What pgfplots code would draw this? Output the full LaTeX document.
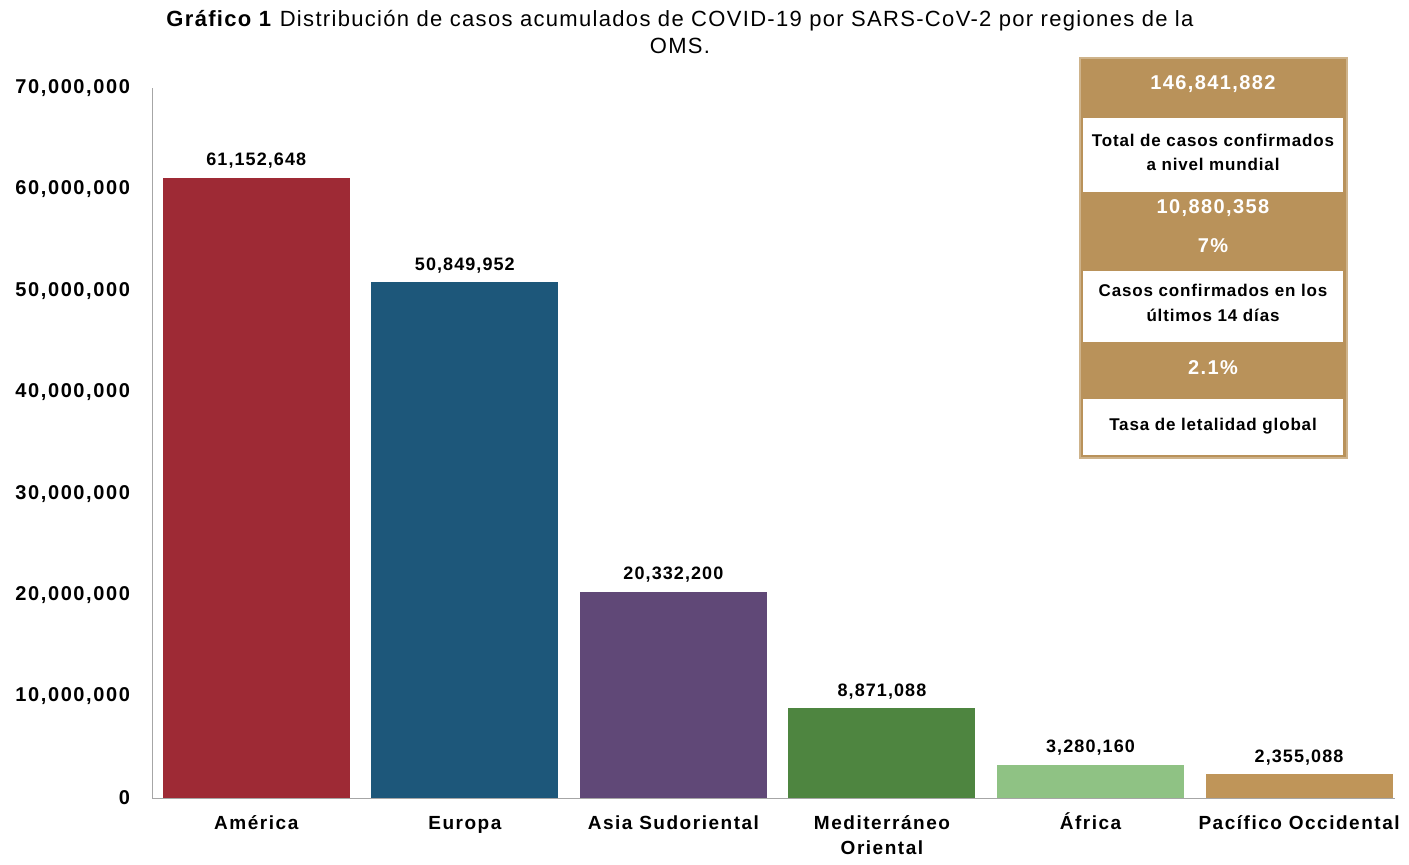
\documentclass[border=0pt]{standalone}
\usepackage{pgfplots}
\pgfplotsset{compat=1.18}
\usepackage{pgfplotstable}
\usepackage{fontspec}
\setmainfont{Liberation Sans}
\newfontfamily\spA[LetterSpace=8]{Liberation Sans}
\newfontfamily\spB[LetterSpace=6]{Liberation Sans}
\newfontfamily\spC[LetterSpace=5]{Liberation Sans}
\newfontfamily\spD[LetterSpace=7]{Liberation Sans}
\definecolor{cAm}{HTML}{9E2A35}
\definecolor{cEu}{HTML}{1D577A}
\definecolor{cAs}{HTML}{604877}
\definecolor{cMe}{HTML}{4E8540}
\definecolor{cAf}{HTML}{8FC284}
\definecolor{cPa}{HTML}{BF9559}
\definecolor{tan}{HTML}{B9925A}
\pgfplotstableread[col sep=space]{
x y lab
0 61152648 61,152,648
1 50849952 50,849,952
2 20332200 20,332,200
3 8871088 8,871,088
4 3280160 3,280,160
5 2355088 2,355,088
}\data
\begin{document}
\begin{tikzpicture}[x=1pt,y=1pt]
\useasboundingbox (-76,-33.5) rectangle (628.5,399);
\begin{axis}[
  at={(0,0)}, anchor=south west,
  scale only axis, width=621.5pt, height=355pt,
  xmin=-0.5, xmax=5.46, ymin=0, ymax=70000000,
  axis x line*=bottom, axis y line*=left,
  axis line style={gray!70, -},
  ytick={0,10000000,...,70000000},
  scaled y ticks=false,
  yticklabel style={/pgf/number format/fixed, /pgf/number format/precision=0, /pgf/number format/1000 sep={,}, /pgf/number format/assume math mode=true,
    font=\spA\fontsize{10}{11}\selectfont\bfseries, xshift=-7.5pt},
  major tick length=0pt,
  xtick={0,1,2,3,4,5},
  xticklabels={\vphantom{Á}América, \vphantom{Á}Europa, \vphantom{Á}Asia Sudoriental, {\vphantom{Á}Mediterráneo\\Oriental}, \vphantom{Á}África, \vphantom{Á}Pacífico Occidental},
  xticklabel style={font=\spA\fontsize{9.5}{12.5}\selectfont\bfseries, align=center, yshift=-4pt},
  ybar, bar width=93.5pt, bar shift=0pt,
  nodes near coords,
  point meta=explicit symbolic,
  nodes near coords style={font=\spB\fontsize{9}{10}\selectfont\bfseries, black, yshift=1pt},
]
\addplot[fill=cAm, draw=none] table[x=x, y=y, meta=lab, skip coords between index={1}{6}] {\data};
\addplot[fill=cEu, draw=none] table[x=x, y=y, meta=lab, skip coords between index={0}{1}, skip coords between index={2}{6}] {\data};
\addplot[fill=cAs, draw=none] table[x=x, y=y, meta=lab, skip coords between index={0}{2}, skip coords between index={3}{6}] {\data};
\addplot[fill=cMe, draw=none] table[x=x, y=y, meta=lab, skip coords between index={0}{3}, skip coords between index={4}{6}] {\data};
\addplot[fill=cAf, draw=none] table[x=x, y=y, meta=lab, skip coords between index={0}{4}, skip coords between index={5}{6}] {\data};
\addplot[fill=cPa, draw=none] table[x=x, y=y, meta=lab, skip coords between index={0}{5}] {\data};
\end{axis}
% title
\node[align=center, font=\spB\fontsize{11}{13.5}\selectfont] at (264,383) {\textbf{Gráfico 1} Distribución de casos acumulados de COVID-19 por SARS-CoV-2 por regiones de la\\OMS.};
% info box
\fill[tan] (464,370) rectangle (597.5,170);
\draw[tan!70!white, line width=1pt] (464,370) rectangle (597.5,170);
\fill[white] (465.5,340) rectangle (595.5,303);
\fill[white] (465.5,263.5) rectangle (595.5,228);
\fill[white] (465.5,199.5) rectangle (595.5,171.5);
\begin{scope}[every node/.style={font=\spD\fontsize{10}{12}\selectfont\bfseries, text=white}]
\node at (530.5,357) {146,841,882};
\node at (530.5,295) {10,880,358};
\node at (530.5,276) {7\%};
\node at (530.5,215) {2.1\%};
\end{scope}
\begin{scope}[every node/.style={font=\spC\fontsize{8.5}{12.2}\selectfont\bfseries, text=black, align=center}]
\node at (530.5,322.75) {Total de casos confirmados\\a nivel mundial};
\node at (530.5,247.5) {Casos confirmados en los\\últimos 14 días};
\node at (530.5,186) {Tasa de letalidad global};
\end{scope}
\end{tikzpicture}
\end{document}
